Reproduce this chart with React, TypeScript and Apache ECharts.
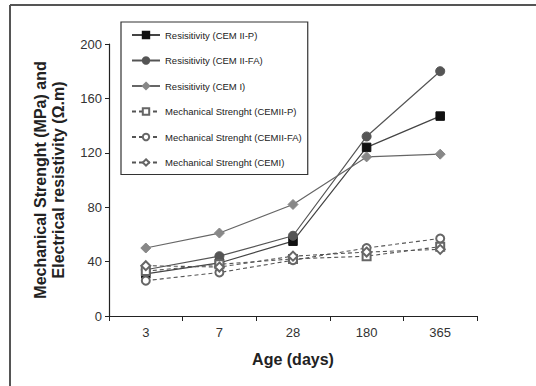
import React, { useEffect, useRef } from "react";
import * as echarts from "echarts";

const categories = ["3", "7", "28", "180", "365"];
const resCEMIIP = [31, 39, 55, 124, 147];
const resCEMIIFA = [34, 44, 59, 132, 180];
const resCEMI = [50, 61, 82, 117, 119];
const mechCEMIIP = [33, 38, 42, 44, 51];
const mechCEMIIFA = [26, 32, 41, 50, 57];
const mechCEMI = [37, 36, 44, 47, 49];
const yTicks = { min: 0, max: 200, interval: 40 };

export default function App() {
  const ref = useRef<HTMLDivElement>(null);
  useEffect(() => {
    if (!ref.current) return;
    const chart = echarts.init(ref.current, undefined, { renderer: "svg" });
    const font = "Liberation Sans, Arial, sans-serif";
    const solid = (name: string, data: number[], symbol: string, size: number, color: string, lineColor: string) => ({
      name,
      type: "line",
      data,
      symbol,
      symbolSize: size,
      itemStyle: { color, borderColor: color, borderWidth: 1 },
      lineStyle: { color: lineColor, width: 1.2, type: "solid" },
    });
    const dashed = (name: string, data: number[], symbol: string, size: number) => ({
      name,
      type: "line",
      data,
      symbol,
      symbolSize: size,
      itemStyle: { color: "#666", borderWidth: 1.2 },
      lineStyle: { color: "#555", width: 1.1, type: [4, 3] },
    });
    chart.setOption({
      animation: false,
      backgroundColor: "#fff",
      textStyle: { fontFamily: font },
      grid: { left: 109, right: 59, top: 44, bottom: 70 },
      legend: {
        orient: "vertical",
        left: 121,
        top: 22,
        padding: [6, 6, 5, 10],
        itemGap: 11.5,
        itemWidth: 28,
        itemHeight: 8,
        borderColor: "#333",
        borderWidth: 1.2,
        textStyle: { fontSize: 9.5, color: "#222", fontFamily: font, lineHeight: 14 },
        data: [
          "Resisitivity (CEM II-P)",
          "Resisitivity (CEM II-FA)",
          "Resisitivity (CEM I)",
          "Mechanical Strenght (CEMII-P)",
          "Mechanical Strenght (CEMII-FA)",
          "Mechanical Strenght (CEMI)",
        ],
      },
      xAxis: {
        type: "category",
        data: categories,
        boundaryGap: true,
        name: "Age (days)",
        nameLocation: "middle",
        nameGap: 35,
        nameTextStyle: { fontSize: 16, fontWeight: "bold", color: "#222", fontFamily: font },
        axisLine: { lineStyle: { color: "#222", width: 1.2 } },
        axisTick: { show: true, length: 5, lineStyle: { color: "#222" } },
        axisLabel: { fontSize: 13, color: "#333", margin: 10 },
        splitLine: { show: false },
      },
      yAxis: {
        type: "value",
        min: yTicks.min,
        max: yTicks.max,
        interval: yTicks.interval,
        name: "Mechanical Strenght (MPa) and\nElectrical resistivity (Ω.m)",
        nameLocation: "middle",
        nameGap: 42,
        nameTextStyle: { fontSize: 16, fontWeight: "bold", color: "#222", lineHeight: 18, fontFamily: font },
        axisLine: { show: true, lineStyle: { color: "#222", width: 1.2 } },
        axisTick: { show: true, length: 4, lineStyle: { color: "#222" } },
        axisLabel: { fontSize: 13, color: "#333", margin: 7 },
        splitLine: { show: false },
      },
      graphic: [
        { type: "line", shape: { x1: 10, y1: 5, x2: 536, y2: 5 }, style: { stroke: "#555", lineWidth: 2 } },
        { type: "line", shape: { x1: 10, y1: 5, x2: 10, y2: 386 }, style: { stroke: "#555", lineWidth: 2 } },
      ],
      series: [
        solid("Resisitivity (CEM II-P)", resCEMIIP, "rect", 8.5, "#111", "#444"),
        solid("Resisitivity (CEM II-FA)", resCEMIIFA, "circle", 9, "#555", "#555"),
        solid("Resisitivity (CEM I)", resCEMI, "diamond", 10, "#888", "#666"),
        dashed("Mechanical Strenght (CEMII-P)", mechCEMIIP, "emptyRect", 8),
        dashed("Mechanical Strenght (CEMII-FA)", mechCEMIIFA, "emptyCircle", 8),
        dashed("Mechanical Strenght (CEMI)", mechCEMI, "emptyDiamond", 9),
      ],
    });
    return () => chart.dispose();
  }, []);
  return (
    <div
      ref={ref}
      style={{ position: "fixed", left: 0, top: 0, width: 536, height: 386, background: "#fff" }}
    />
  );
}
